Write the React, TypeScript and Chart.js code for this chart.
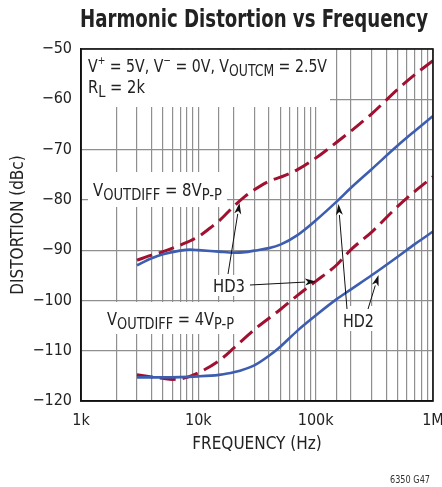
import React, { useEffect, useRef } from "react";
import { Chart, registerables } from "chart.js";

Chart.register(...registerables);

// ---- data (frequency in Hz, distortion in dBc) ----
const FREQ_HD3_8V = [3000, 4000, 5000, 7000, 10000, 12600, 15000, 20000, 25000, 30000, 40000, 50000, 70000, 100000, 150000, 200000, 300000, 500000, 700000, 1000000];
const HD3_8V = [-92, -91, -90.3, -89, -87.3, -85.6, -84.2, -81.3, -79.3, -78, -76.3, -75.5, -74, -71.7, -68.6, -66.3, -62.9, -58, -55.1, -52.3];

const FREQ_HD2_8V = [3000, 4000, 5000, 7000, 8500, 10000, 15000, 20000, 25000, 30000, 40000, 50000, 70000, 100000, 150000, 200000, 300000, 500000, 700000, 1000000];
const HD2_8V = [-93, -91.6, -90.8, -90.1, -89.9, -90, -90.3, -90.5, -90.4, -90.1, -89.6, -88.9, -87, -84.1, -80.4, -77.6, -73.9, -69.2, -66.3, -63.3];

const FREQ_HD3_4V = [3000, 4000, 5000, 6000, 7000, 8000, 10000, 15000, 20000, 30000, 50000, 70000, 100000, 150000, 200000, 300000, 500000, 700000, 1000000];
const HD3_4V = [-114.8, -115.2, -115.5, -115.7, -115.6, -115.3, -114.4, -112, -109.5, -105.8, -101.8, -99, -96.2, -93, -89.9, -86.4, -81.3, -78.3, -75.4];

const FREQ_HD2_4V = [3000, 5000, 10000, 15000, 20000, 30000, 40000, 50000, 70000, 100000, 150000, 200000, 300000, 500000, 700000, 1000000];
const HD2_4V = [-115.3, -115.3, -115.1, -114.8, -114.3, -112.9, -111, -109.2, -106, -103, -99.8, -97.8, -95, -91.3, -88.8, -86.3];

const X_TICK_LABELS: Record<number, string> = { 1000: "1k", 10000: "10k", 100000: "100k", 1000000: "1M" };
const Y_MIN = -120;
const Y_MAX = -50;

const TITLE = "Harmonic Distortion vs Frequency";
const X_TITLE = "FREQUENCY (Hz)";
const Y_TITLE = "DISTORTION (dBc)";
const FOOTNOTE = "6350 G47";

const FONT = "'DejaVu Sans Condensed', 'Liberation Sans Narrow', 'Arial Narrow', sans-serif";
const RED = "#A0102F";
const BLUE = "#3D5DB0";
const GRID = "#8f8f8f";
const TEXT = "#222222";

type Seg = { t: string; s?: "sub" | "sup" };

// draws rich text starting at x (baseline y), squeezed horizontally to the given width
function drawRich(ctx: CanvasRenderingContext2D, x: number, y: number, segs: Seg[], width: number, size = 17, subSize = 14, supSize = 11, bold = false) {
  const pre = bold ? "bold " : "";
  const fontFor = (seg: Seg) => {
    let fs = size;
    let dy = 0;
    if (seg.s === "sub") { fs = subSize; dy = 4; }
    if (seg.s === "sup") { fs = supSize; dy = -8; }
    return { f: `${pre}${fs}px ${FONT}`, dy };
  };
  let total = 0;
  for (const seg of segs) {
    ctx.font = fontFor(seg).f;
    total += ctx.measureText(seg.t).width;
  }
  const k = Math.min(1, width / total);
  ctx.save();
  ctx.translate(x, y);
  ctx.scale(k, 1);
  ctx.textAlign = "left";
  ctx.textBaseline = "alphabetic";
  let cx = 0;
  for (const seg of segs) {
    const { f, dy } = fontFor(seg);
    ctx.font = f;
    ctx.fillText(seg.t, cx, dy);
    cx += ctx.measureText(seg.t).width;
  }
  ctx.restore();
}

function arrow(ctx: CanvasRenderingContext2D, x1: number, y1: number, x2: number, y2: number) {
  const ang = Math.atan2(y2 - y1, x2 - x1);
  const len = 11;
  const half = 3.5;
  const bx = x2 - len * Math.cos(ang);
  const by = y2 - len * Math.sin(ang);
  ctx.strokeStyle = "#111";
  ctx.lineWidth = 1;
  ctx.beginPath();
  ctx.moveTo(x1, y1);
  ctx.lineTo(bx, by);
  ctx.stroke();
  ctx.fillStyle = "#111";
  ctx.beginPath();
  ctx.moveTo(x2, y2);
  ctx.lineTo(bx + half * Math.sin(ang), by - half * Math.cos(ang));
  ctx.lineTo(bx + 3 * Math.cos(ang), by + 3 * Math.sin(ang));
  ctx.lineTo(bx - half * Math.sin(ang), by + half * Math.cos(ang));
  ctx.closePath();
  ctx.fill();
}

const annotations = {
  id: "annotations",
  beforeDatasetsDraw(chart: any) {
    const ctx: CanvasRenderingContext2D = chart.ctx;
    ctx.save();
    ctx.fillStyle = "#ffffff";
    const boxes = [
      [82, 50, 248, 57],
      [88, 172, 139, 35],
      [101, 302, 139, 32],
      [211, 275, 37, 21],
      [340, 306, 37, 25],
    ];
    for (const b of boxes) ctx.fillRect(b[0], b[1], b[2], b[3]);
    ctx.restore();
  },
  afterDatasetsDraw(chart: any) {
    const ctx: CanvasRenderingContext2D = chart.ctx;
    const { left, right, top, bottom } = chart.chartArea;
    ctx.save();
    // frame
    ctx.strokeStyle = "#111";
    ctx.lineWidth = 1.6;
    ctx.strokeRect(left, top, right - left, bottom - top);

    ctx.fillStyle = TEXT;
    // title
    drawRich(ctx, 80, 27, [{ t: TITLE }], 348, 25, 25, 25, true);

    // conditions
    drawRich(ctx, 88, 72, [
      { t: "V" }, { t: "+", s: "sup" }, { t: " = 5V, V" }, { t: "\u2212", s: "sup" },
      { t: " = 0V, V" }, { t: "OUTCM", s: "sub" }, { t: " = 2.5V" },
    ], 239, 17, 15, 11);
    drawRich(ctx, 88, 93, [{ t: "R" }, { t: "L", s: "sub" }, { t: " = 2k" }], 57, 17, 15, 11);

    drawRich(ctx, 93, 196, [{ t: "V" }, { t: "OUTDIFF", s: "sub" }, { t: " = 8V" }, { t: "P-P", s: "sub" }], 129, 17, 15, 11);
    drawRich(ctx, 107, 325, [{ t: "V" }, { t: "OUTDIFF", s: "sub" }, { t: " = 4V" }, { t: "P-P", s: "sub" }], 127, 17, 15, 11);

    drawRich(ctx, 213, 292, [{ t: "HD3" }], 32, 17);
    drawRich(ctx, 343, 327, [{ t: "HD2" }], 31, 17);

    arrow(ctx, 228, 274, 239.5, 203);
    arrow(ctx, 250, 285, 316, 281.5);
    arrow(ctx, 347, 309, 338.5, 204);
    arrow(ctx, 368, 309, 378.5, 275);

    ctx.fillStyle = "#333";
    drawRich(ctx, 390, 483, [{ t: FOOTNOTE }], 40, 10);
    ctx.restore();
  },
};

function toXY(xs: number[], ys: number[]) {
  return xs.map((x, i) => ({ x, y: ys[i] }));
}

export default function App() {
  const ref = useRef<HTMLCanvasElement | null>(null);
  useEffect(() => {
    document.body.style.margin = "0";
    const canvas = ref.current!;
    const chart = new Chart(canvas, {
      type: "line",
      data: {
        datasets: [
          { label: "HD2 8V", data: toXY(FREQ_HD2_8V, HD2_8V), borderColor: BLUE, borderWidth: 2.6, pointRadius: 0, cubicInterpolationMode: "monotone", fill: false },
          { label: "HD2 4V", data: toXY(FREQ_HD2_4V, HD2_4V), borderColor: BLUE, borderWidth: 2.6, pointRadius: 0, cubicInterpolationMode: "monotone", fill: false },
          { label: "HD3 8V", data: toXY(FREQ_HD3_8V, HD3_8V), borderColor: RED, borderWidth: 3, borderDash: [16, 7], pointRadius: 0, cubicInterpolationMode: "monotone", fill: false },
          { label: "HD3 4V", data: toXY(FREQ_HD3_4V, HD3_4V), borderColor: RED, borderWidth: 3, borderDash: [16, 7], pointRadius: 0, cubicInterpolationMode: "monotone", fill: false },
        ] as any,
      },
      options: {
        responsive: false,
        animation: false,
        events: [],
        layout: { padding: { top: 49, right: 9, left: 0, bottom: 0 } },
        plugins: { legend: { display: false }, tooltip: { enabled: false }, title: { display: false } },
        scales: {
          x: {
            type: "logarithmic",
            min: 1000,
            max: 1000000,
            grid: { color: GRID, lineWidth: 1.2, drawTicks: false },
            border: { color: "#111", width: 1.6 },
            ticks: {
              autoSkip: false,
              maxRotation: 0,
              padding: 10,
              color: TEXT,
              font: { family: FONT, size: 16 },
              callback: (v: any) => X_TICK_LABELS[Number(v)] ?? "",
            },
            title: { display: true, text: X_TITLE, color: TEXT, font: { family: FONT, size: 17 }, padding: { top: 0, bottom: 32 } },
            afterFit: (s: any) => { s.height = 86; s.paddingLeft = 0; s.paddingRight = 0; },
          } as any,
          y: {
            type: "linear",
            min: Y_MIN,
            max: Y_MAX,
            grid: { color: GRID, lineWidth: 1.2, drawTicks: false },
            border: { color: "#111", width: 1.6 },
            ticks: {
              stepSize: 10,
              padding: 9,
              color: TEXT,
              font: { family: FONT, size: 16 },
              callback: (v: any) => (Number(v) < 0 ? "\u2212" + Math.abs(Number(v)) : String(v)),
            },
            title: { display: true, text: Y_TITLE, color: TEXT, font: { family: FONT, size: 17 }, padding: { top: 8, bottom: 0 } },
            afterFit: (s: any) => { s.width = 81; s.paddingTop = 0; s.paddingBottom = 0; },
          } as any,
        },
      },
      plugins: [annotations],
    });
    return () => chart.destroy();
  }, []);
  return (
    <div style={{ position: "absolute", left: 0, top: 0, width: 442, height: 487, background: "#fff" }}>
      <canvas ref={ref} width={442} height={487} style={{ display: "block" }} />
    </div>
  );
}
